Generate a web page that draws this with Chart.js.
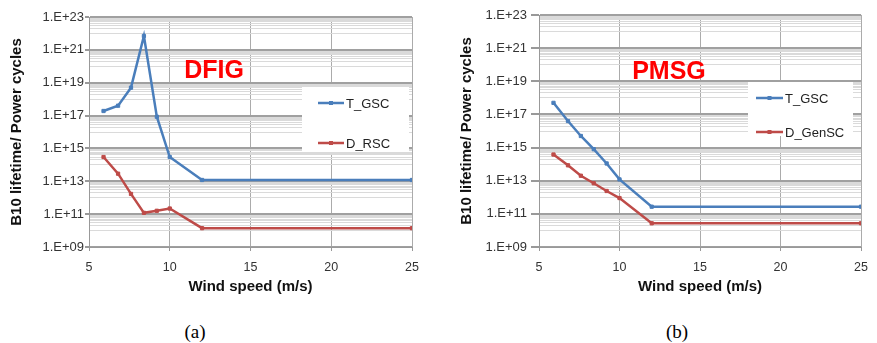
<!DOCTYPE html>
<html><head><meta charset="utf-8">
<script src="https://cdn.jsdelivr.net/npm/chart.js@4/dist/chart.umd.min.js"></script>
<style>
html,body{margin:0;padding:0;background:#fff;width:877px;height:343px;overflow:hidden;}
.wrap{position:absolute;top:0;}
.cap{position:absolute;font-family:"Liberation Serif","Times New Roman",serif;font-size:19px;color:#000;transform:translateX(-50%);top:321px;}
</style></head>
<body>
<div class="wrap" style="left:0;width:440px;height:300px;"><canvas id="c1" width="440" height="300"></canvas></div>
<div class="wrap" style="left:440px;width:437px;height:300px;"><canvas id="c2" width="437" height="300"></canvas></div>
<div class="cap" style="left:195px;">(a)</div>
<div class="cap" style="left:677px;">(b)</div>
<script>
const windSpeed = [5.9, 6.8, 7.6, 8.4, 9.2, 10.0, 12, 25];
const dfigTGSC = [1.9e17, 4e17, 5e18, 7e21, 8.5e16, 3e14, 1.2e13, 1.2e13];
const dfigDRSC = [3e14, 2.9e13, 1.7e12, 1.2e11, 1.6e11, 2.2e11, 1.4e10, 1.4e10];
const pmsgTGSC = [5e17, 4e16, 5e15, 8e14, 1.1e14, 1.2e13, 2.7e11, 2.7e11];
const pmsgDGenSC = [3.8e14, 8.5e13, 2e13, 7e12, 2.4e12, 9e11, 2.7e10, 2.7e10];
const xTicks = [5, 10, 15, 20, 25];
const yMajorExps = [9, 11, 13, 15, 17, 19, 21, 23];

const BLUE = '#4A7EBB', RED = '#BE4B48';
const FONT = '"Liberation Sans", Arial, sans-serif';

function yTickValues() {
  const vals = [];
  yMajorExps.forEach(e => vals.push(Math.pow(10, e)));
  for (let e = 10; e <= 22; e += 2) {
    for (let m = 1; m <= 9; m++) vals.push(m * Math.pow(10, e));
  }
  vals.sort((a, b) => a - b);
  return vals;
}
function isMajor(v) {
  const l = Math.log10(v);
  const r = Math.round(l);
  return Math.abs(l - r) < 1e-6 && (r % 2 === 1 || r % 2 === -1);
}
function fmt(v) {
  const e = Math.round(Math.log10(v));
  return '1.E' + (e >= 0 ? '+' : '-') + String(Math.abs(e)).padStart(2, '0');
}

function makeChart(id, cfg) {
  const annot = {
    id: 'annot' + id,
    afterDatasetsDraw(chart) {
      const ctx = chart.ctx;
      ctx.save();
      ctx.fillStyle = '#FF0000';
      ctx.font = 'bold 25px ' + FONT;
      ctx.textAlign = 'center';
      ctx.textBaseline = 'alphabetic';
      ctx.fillText(cfg.label, cfg.labelX, cfg.labelY);
      const L = cfg.legend;
      ctx.fillStyle = '#ffffff';
      ctx.fillRect(L.x, L.y, L.w, L.h);
      chart.data.datasets.forEach((ds, i) => {
        const yy = L.y + L.rowY[i];
        ctx.strokeStyle = ds.borderColor;
        ctx.lineWidth = 2.5;
        ctx.beginPath();
        ctx.moveTo(L.x + L.lineX0, yy);
        ctx.lineTo(L.x + L.lineX1, yy);
        ctx.stroke();
        ctx.fillStyle = ds.borderColor;
        const mx = (L.lineX0 + L.lineX1) / 2 + L.x;
        ctx.fillRect(mx - 2, yy - 2, 4, 4);
        ctx.fillStyle = '#222';
        ctx.font = '13px ' + FONT;
        ctx.textAlign = 'left';
        ctx.textBaseline = 'middle';
        ctx.fillText(ds.label, L.x + L.lineX1 + 2, yy + 1);
      });
      ctx.restore();
    }
  };
  const mk = (label, vals, color) => ({
    label: label,
    data: windSpeed.map((x, i) => ({x: x, y: vals[i]})),
    borderColor: color,
    backgroundColor: color,
    borderWidth: 2.5,
    pointStyle: 'rect',
    pointRadius: 2.3,
    pointBorderWidth: 1,
    tension: 0
  });
  return new Chart(document.getElementById(id), {
    type: 'line',
    data: {
      datasets: [mk(cfg.s1Name, cfg.s1, BLUE), mk(cfg.s2Name, cfg.s2, RED)]
    },
    options: {
      responsive: false,
      animation: false,
      events: [],
      layout: {padding: {top: cfg.top, right: cfg.right, left: 0, bottom: 4}},
      plugins: {legend: {display: false}, tooltip: {enabled: false}},
      scales: {
        x: {
          type: 'linear', min: 5, max: 25,
          afterBuildTicks: s => { s.ticks = xTicks.map(v => ({value: v})); },
          afterFit: s => { s.height = 300 - 4 - 251 + 4; },
          ticks: {font: {family: FONT, size: 12.5}, color: '#333', padding: 9, maxRotation: 0},
          grid: {color: '#ababab', lineWidth: 1, tickLength: 4, tickColor: '#999'},
          border: {color: '#999', width: 1},
          title: {display: true, text: 'Wind speed (m/s)', font: {family: FONT, size: 15, weight: 'bold'}, color: '#111', padding: {top: 0, bottom: 0}}
        },
        y: {
          type: 'logarithmic', min: 1e9, max: 1e23,
          afterBuildTicks: s => { s.ticks = yTickValues().map(v => ({value: v})); },
          afterFit: s => { s.width = cfg.yWidth; },
          ticks: {
            font: {family: FONT, size: 13}, color: '#333', padding: cfg.yPad, autoSkip: false,
            callback: v => isMajor(v) ? fmt(v) : ''
          },
          grid: {
            color: c => isMajor(c.tick.value) ? '#a0a0a0' : '#dadada',
            lineWidth: c => isMajor(c.tick.value) ? 2 : 1,
            tickLength: cfg.yTick,
            tickColor: c => isMajor(c.tick.value) ? '#999' : 'rgba(0,0,0,0)'
          },
          border: {color: '#999', width: 1},
          title: {display: true, text: 'B10 lifetime/ Power cycles', font: {family: FONT, size: 15, weight: 'bold'}, color: '#111', padding: {top: cfg.yTitlePad, bottom: 0}}
        }
      }
    },
    plugins: [annot]
  });
}

makeChart('c1', {
  s1Name: 'T_GSC', s1: dfigTGSC, s2Name: 'D_RSC', s2: dfigDRSC,
  label: 'DFIG', labelX: 214, labelY: 78,
  top: 17, right: 28, yWidth: 89, yPad: 1, yTick: 4, yTitlePad: 8,
  legend: {x: 302, y: 87, w: 107, h: 65, lineX0: 16, lineX1: 42, rowY: [16, 56]}
});
makeChart('c2', {
  s1Name: 'T_GSC', s1: pmsgTGSC, s2Name: 'D_GenSC', s2: pmsgDGenSC,
  label: 'PMSG', labelX: 229, labelY: 79,
  top: 15, right: 8, yWidth: 99, yPad: 4, yTick: 8, yTitlePad: 18,
  legend: {x: 308, y: 82, w: 105, h: 54, lineX0: 8, lineX1: 35, rowY: [16, 50]}
});
</script>
</body></html>
